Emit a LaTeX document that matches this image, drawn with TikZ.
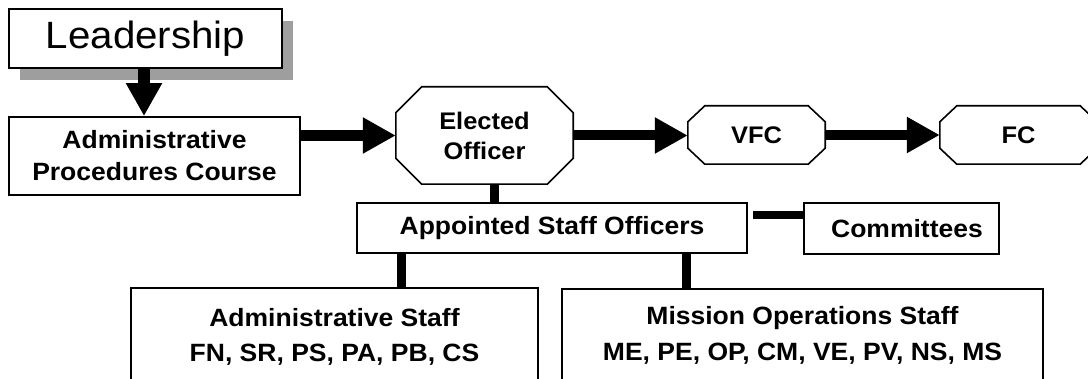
\documentclass[tikz,border=0pt]{standalone}
\usepackage{fontspec}
\setmainfont{Liberation Sans}[FakeStretch=1.06]
\usetikzlibrary{arrows.meta,calc,shadows}
\newcommand{\myoct}[3]{%
  \draw[octline] ($(#1.north west)+(#2,0)$) -- ($(#1.north east)+(-#2,0)$)
    -- ($(#1.north east)+(0,#3)$) -- ($(#1.south east)+(0,-#3)$)
    -- ($(#1.south east)+(-#2,0)$) -- ($(#1.south west)+(#2,0)$)
    -- ($(#1.south west)+(0,-#3)$) -- ($(#1.north west)+(0,#3)$) -- cycle;}
\begin{document}
\begin{tikzpicture}[x=1pt,y=-1pt,
  box/.style={draw=black, line width=1.8pt, fill=white, inner sep=0pt, align=center,
    font=\bfseries\fontsize{25}{32}\selectfont},
  octnode/.style={inner sep=0pt, align=center, font=\bfseries\fontsize{24}{30}\selectfont},
  octline/.style={draw=black, line width=1.6pt, line join=miter},
  conn/.style={line width=9pt},
  bigarrow/.style={line width=11pt, -{Triangle[length=33pt,width=34pt]}},
]
\clip (0,0) rectangle (1088,379);
\fill[white] (0,0) rectangle (1088,379);

% Leadership with shadow
\node[box, font=\fontsize{38}{38}\selectfont, minimum width=273pt, minimum height=59pt,
  general shadow={fill=black!38, shadow xshift=11pt, shadow yshift=-12pt}]
  (lead) at (145.5,38.5) {Leadership};

% Administrative Procedures Course
\node[box, minimum width=291pt, minimum height=78pt] (apc) at (154.5,156)
  {Administrative\\Procedures Course};

% Octagon nodes
\node[octnode, minimum width=177pt, minimum height=97pt] (elected) at (484.5,135.5) {Elected\\Officer};
\myoct{elected}{26}{26}
\node[octnode, minimum width=137pt, minimum height=58pt] (vfc) at (756.5,135) {VFC};
\myoct{vfc}{17}{16}
\node[octnode, minimum width=157pt, minimum height=58pt] (fc) at (1018.5,135) {FC};
\myoct{fc}{17}{16}

% Appointed Staff Officers and Committees
\node[box, minimum width=390pt, minimum height=50pt] (aso) at (552,228) {Appointed Staff Officers};
\node[box, minimum width=195pt, minimum height=51pt] (comm) at (901.5,228.5) {\hspace*{11pt}Committees};

% Staff boxes
\node[box, anchor=north, minimum width=407pt, inner ysep=20pt, text depth=90pt,
  font=\bfseries\fontsize{25}{35}\selectfont] (admin) at (334.5,287)
  {Administrative Staff\\FN, SR, PS, PA, PB, CS};
\node[box, anchor=north, minimum width=481pt, inner ysep=17pt, text depth=90pt,
  font=\bfseries\fontsize{25}{36}\selectfont] (mission) at (802.5,288)
  {Mission Operations Staff\\ME, PE, OP, CM, VE, PV, NS, MS};

% Arrows
\draw[bigarrow, line width=12pt] ([xshift=-1.5pt]lead.south) -- ([xshift=-1.5pt]lead.south |- apc.north);
\draw[bigarrow] (apc.east |- elected.west) -- (elected.west);
\draw[bigarrow, line width=10pt] (elected.east) -- (elected.east -| vfc.west);
\draw[bigarrow, line width=10pt] (vfc.east) -- (fc.west);

% Connectors
\draw[conn] ([xshift=9.5pt]elected.south) -- ([xshift=9.5pt]elected.south |- aso.north);
\coordinate (cstart) at ($(aso.north east)+(5,12.5)$);
\draw[conn, line width=8pt] (cstart) -- (cstart -| comm.west);
\draw[conn] ([xshift=45pt]aso.south west) -- ([xshift=45pt]aso.south west |- admin.north);
\draw[conn] ([xshift=-61pt]aso.south east) -- ([xshift=-61pt]aso.south east |- mission.north);
\end{tikzpicture}
\end{document}
